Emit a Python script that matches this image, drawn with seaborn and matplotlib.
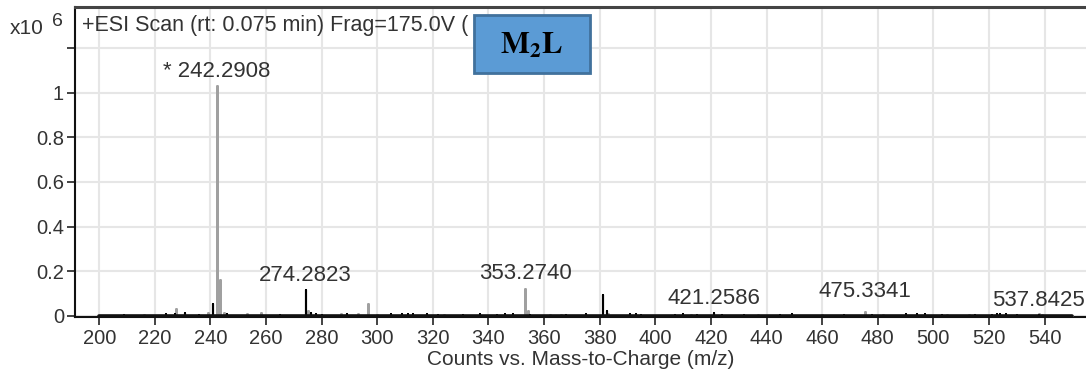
import pandas as pd
import matplotlib.pyplot as plt
import matplotlib.patches as mpatches
import seaborn as sns

# Spectrum sticks (m/z, counts in units of 1e6)
black_mz = [209.0, 224.0, 227.2, 231.0, 236.0, 240.9, 246.0, 265.0, 274.28, 276.0, 278.0, 280.0,
            289.0, 305.0, 309.0, 311.0, 313.0, 318.0, 322.0, 331.0, 337.0, 343.0, 346.0, 349.0,
            355.0, 368.0, 375.0, 381.3, 382.5, 391.0, 393.0, 395.0, 407.0, 410.0, 415.0, 421.26,
            424.0, 432.0, 445.0, 449.0, 468.0, 478.0, 490.0, 494.0, 497.0, 503.0, 515.0, 521.0,
            523.0, 524.0, 526.0, 530.0, 538.0]
black_int = [0.005, 0.010, 0.008, 0.012, 0.006, 0.055, 0.010, 0.006, 0.115, 0.015, 0.008, 0.005,
             0.010, 0.008, 0.010, 0.010, 0.008, 0.008, 0.006, 0.005, 0.008, 0.006, 0.007, 0.008,
             0.006, 0.004, 0.008, 0.093, 0.020, 0.008, 0.007, 0.006, 0.005, 0.008, 0.006, 0.012,
             0.005, 0.006, 0.005, 0.008, 0.006, 0.005, 0.007, 0.008, 0.008, 0.004, 0.005, 0.006,
             0.010, 0.010, 0.008, 0.004, 0.005]

gray_mz = [216.0, 227.5, 239.0, 242.29, 243.5, 245.0, 253.0, 258.3, 275.0, 287.0, 293.0, 296.6,
           300.0, 324.0, 353.27, 354.3, 362.0, 366.0, 383.0, 413.0, 437.0, 460.0, 475.33, 482.0,
           505.0, 513.0, 537.84, 539.0]
gray_int = [0.006, 0.030, 0.012, 1.030, 0.160, 0.015, 0.008, 0.015, 0.020, 0.010, 0.008, 0.055,
            0.006, 0.005, 0.120, 0.020, 0.005, 0.006, 0.010, 0.006, 0.005, 0.006, 0.018, 0.006,
            0.005, 0.004, 0.008, 0.006]

label_mz = [242.2908, 274.2823, 353.2740, 421.2586, 475.3341, 537.8425]
label_text = ['* 242.2908', '274.2823', '353.2740', '421.2586', '475.3341', '537.8425']

x_ticks = list(range(200, 541, 20))
y_ticks = [0, 0.2, 0.4, 0.6, 0.8, 1.0, 1.2]
y_ticklabels = ['0', '0.2', '0.4', '0.6', '0.8', '1', '']


def stick_table(mz, inten, start, end):
    xs, ys = [start], [0.0]
    for m, h in sorted(zip(mz, inten)):
        xs += [m, m, m]
        ys += [0.0, h, 0.0]
    xs.append(end)
    ys.append(0.0)
    return pd.DataFrame({'mz': xs, 'counts': ys})


sns.set_style('whitegrid', {'grid.color': '#e6e6e6'})
plt.rcParams['font.family'] = ['Liberation Sans', 'DejaVu Sans']
plt.rcParams['mathtext.fontset'] = 'stix'

fig = plt.figure(figsize=(10.86, 3.72), dpi=100)
ax = fig.add_axes([75 / 1086, 1 - 317 / 372, 1 - 75 / 1086, 310 / 372])

gray_df = stick_table(gray_mz, gray_int, 200.0, 550.0)
black_df = stick_table(black_mz, black_int, 200.0, 550.0)
sns.lineplot(data=gray_df, x='mz', y='counts', estimator=None, sort=False,
             color='#a0a0a0', lw=2.0, ax=ax, zorder=3)
sns.lineplot(data=black_df, x='mz', y='counts', estimator=None, sort=False,
             color='black', lw=1.5, ax=ax, zorder=4)
# thick baseline of the trace
sns.lineplot(x=[black_df['mz'].iloc[0], black_df['mz'].iloc[-1]], y=[0.0, 0.0],
             color='#111111', lw=2.6, ax=ax, zorder=4)

ax.set_xlim(191.3, 554.9)
ax.set_ylim(-0.005, 1.383)
ax.set_xticks(x_ticks)
ax.set_yticks(y_ticks)
ax.set_yticklabels(y_ticklabels)
ax.grid(True, color='#e6e6e6', lw=1.5)
ax.tick_params(axis='both', direction='out', length=6, width=1.2, color='#222222',
               labelsize=14.5, labelcolor='#333333', left=True, bottom=True)
ax.tick_params(axis='y', pad=2)
ax.tick_params(axis='x', pad=3)
for side in ['left', 'bottom']:
    ax.spines[side].set_color('#111111')
    ax.spines[side].set_linewidth(1.5)
ax.spines['top'].set_color('#444444')
ax.spines['top'].set_linewidth(2.2)
ax.spines['right'].set_visible(False)
ax.set_xlabel('Counts vs. Mass-to-Charge (m/z)', fontsize=15, color='#333333', labelpad=1)
ax.set_ylabel('')

# peak labels, y offsets chosen to sit above each stick
label_y = [1.096, 0.179, 0.188, 0.076, 0.107, 0.067]
for m, t, yy in zip(label_mz, label_text, label_y):
    ax.text(m, yy, t, ha='center', va='center', fontsize=16, color='#333333', zorder=5)

fig.text(82 / 1086, 1 - 26 / 372, '+ESI Scan (rt: 0.075 min) Frag=175.0V (',
         ha='left', va='center', fontsize=15.5, color='#333333')
fig.text(10 / 1086, 1 - 28 / 372, 'x10', ha='left', va='center', fontsize=15, color='#333333')
fig.text(52 / 1086, 1 - 22 / 372, '6', ha='left', va='center', fontsize=14, color='#333333')

box = mpatches.Rectangle((474 / 1086, 1 - 73 / 372), 116 / 1086, 58 / 372,
                         transform=fig.transFigure, facecolor='#5b9bd5',
                         edgecolor='#41719c', lw=2, zorder=10)
fig.patches.append(box)
fig.text(532 / 1086, 1 - 46 / 372, r'$\mathbf{M_2L}$', ha='center', va='center',
         fontsize=22, color='black', zorder=11)

fig.savefig('out.png', dpi=100)
